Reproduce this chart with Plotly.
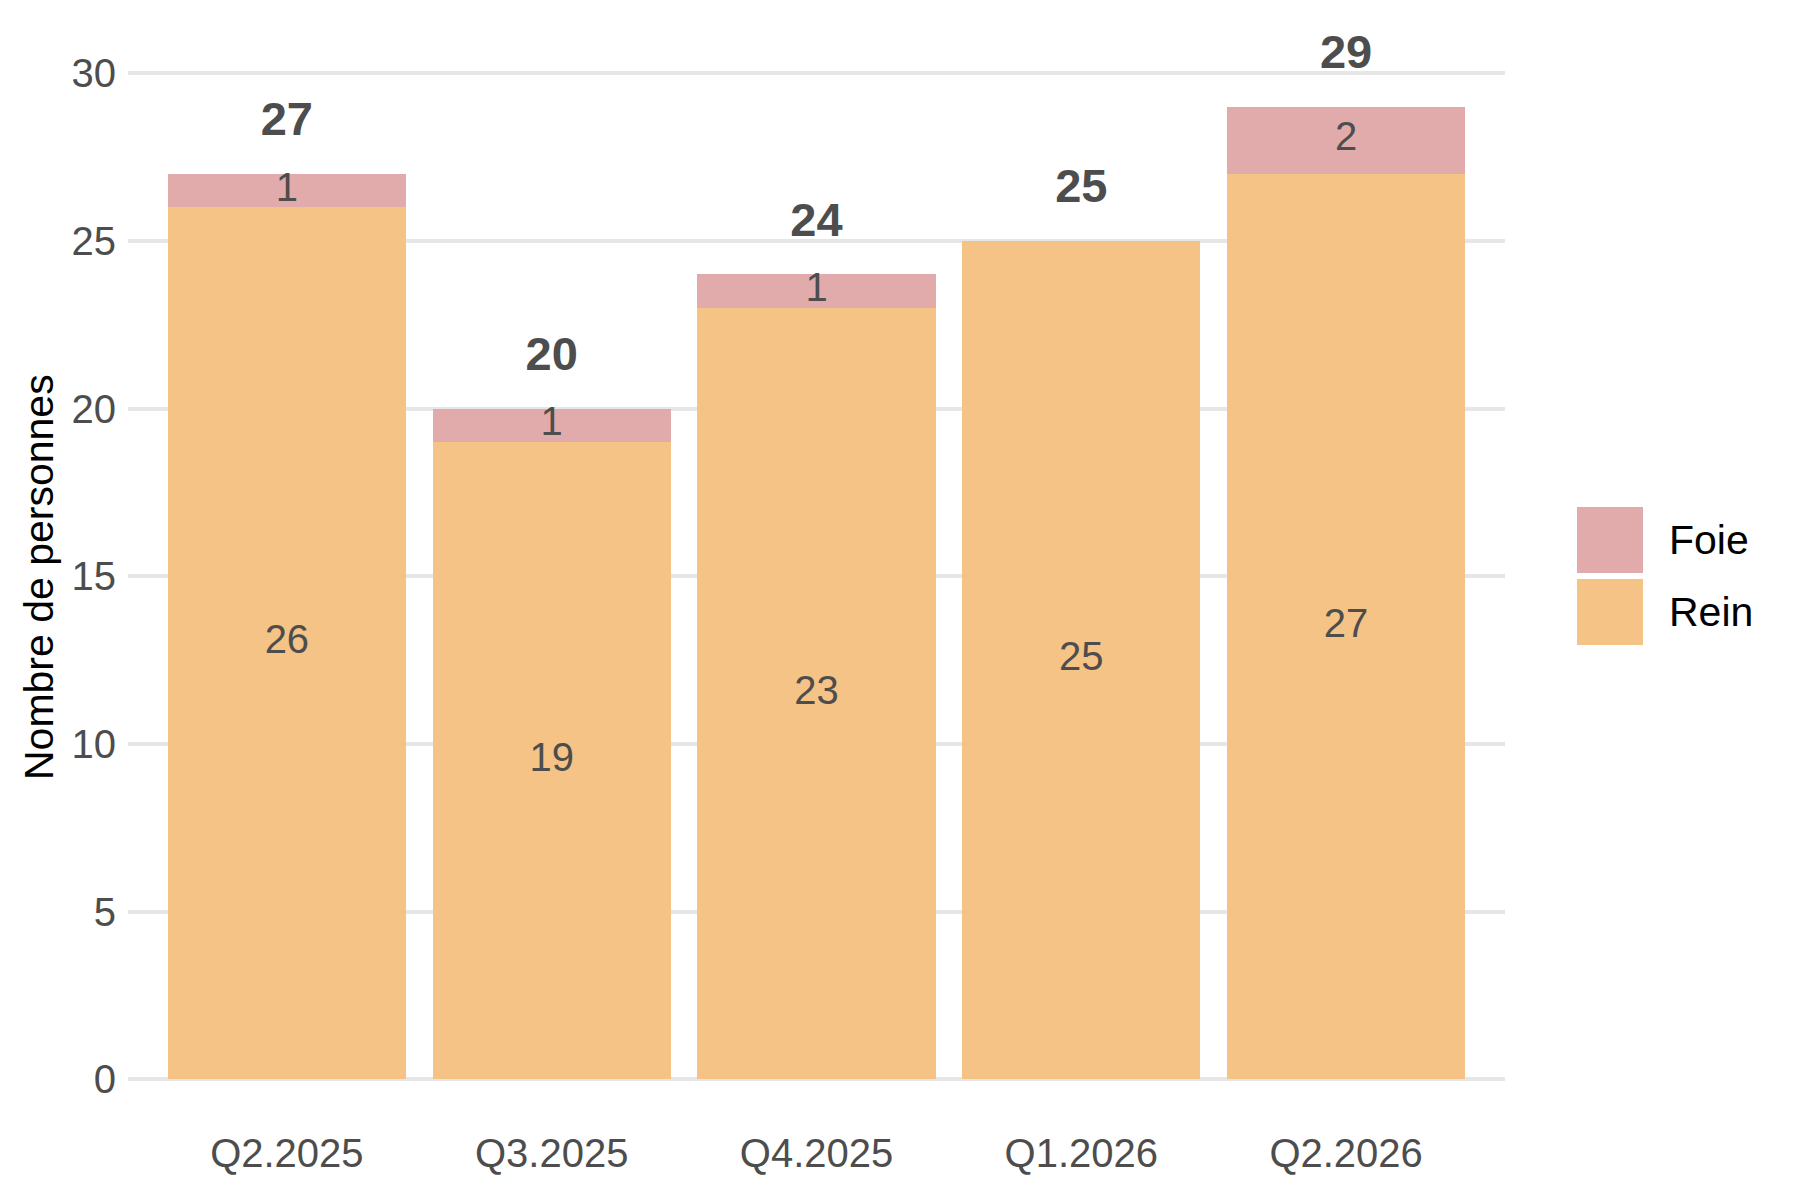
import plotly.graph_objects as go

quarters = ["Q2.2025", "Q3.2025", "Q4.2025", "Q1.2026", "Q2.2026"]
rein = [26, 19, 23, 25, 27]
foie = [1, 1, 1, 0, 2]

totals = [r + f for r, f in zip(rein, foie)]

col_rein = "#F4C385"
col_foie = "#E1ABAC"
font_fam = "Arial, Liberation Sans, sans-serif"
grey_txt = "#4D4D4D"

# page body adds 8px margin, so the figure is a bit smaller than the window
W, H = 1792, 1192
ML, MR, MT, MB = 120, 295, 45, 72

fig = go.Figure()

fig.add_trace(go.Bar(x=quarters, y=rein, name="Rein",
                     marker=dict(color=col_rein, line=dict(width=0)),
                     showlegend=False, hoverinfo="x+y"))
fig.add_trace(go.Bar(x=quarters, y=foie, name="Foie",
                     marker=dict(color=col_foie, line=dict(width=0)),
                     showlegend=False, hoverinfo="x+y"))

# labels in the middle of each segment
fig.add_trace(go.Scatter(
    x=quarters, y=[r / 2 for r in rein], text=[str(r) for r in rein],
    mode="text", textfont=dict(family=font_fam, size=40, color=grey_txt),
    showlegend=False, hoverinfo="skip", cliponaxis=False))
fx = [q for q, f in zip(quarters, foie) if f > 0]
fy = [r + f / 2 for r, f in zip(rein, foie) if f > 0]
ft = [str(f) for f in foie if f > 0]
fig.add_trace(go.Scatter(
    x=fx, y=fy, text=ft,
    mode="text", textfont=dict(family=font_fam, size=40, color=grey_txt),
    showlegend=False, hoverinfo="skip", cliponaxis=False))

# totals above the bars
fig.add_trace(go.Scatter(
    x=quarters, y=[t + 1.5 for t in totals], text=[f"<b>{t}</b>" for t in totals],
    mode="text", textfont=dict(family=font_fam, size=47, color=grey_txt),
    showlegend=False, hoverinfo="skip", cliponaxis=False))

# hand-drawn legend (ggplot style large keys)
pw = W - ML - MR
ph = H - MT - MB


def px(x):
    return (x - ML) / pw


def py(y):
    return (H - MB - y) / ph


legend_items = [("Foie", col_foie, 499), ("Rein", col_rein, 571)]
for label, col, top in legend_items:
    fig.add_shape(type="rect", xref="paper", yref="paper",
                  x0=px(1569), x1=px(1635), y0=py(top + 66), y1=py(top),
                  fillcolor=col, line=dict(width=0))
    fig.add_annotation(xref="paper", yref="paper", x=px(1659), y=py(top + 33),
                       text=label, showarrow=False, xanchor="left", yanchor="middle",
                       font=dict(family=font_fam, size=41, color="black"))

# y axis title
fig.add_annotation(xref="paper", yref="paper", x=px(31), y=py(569),
                   text="Nombre de personnes", textangle=-90, showarrow=False,
                   xanchor="center", yanchor="middle",
                   font=dict(family=font_fam, size=41, color="black"))

fig.update_layout(
    width=W, height=H,
    barmode="stack", bargap=0.1,
    plot_bgcolor="white", paper_bgcolor="white",
    margin=dict(l=ML, r=MR, t=MT, b=MB, autoexpand=False),
    font=dict(family=font_fam, color=grey_txt),
    showlegend=False,
)
fig.update_xaxes(
    range=[-0.6, 4.6], showgrid=False, zeroline=False, showline=False,
    ticks="", tickfont=dict(size=40, color=grey_txt), ticklabelstandoff=-2,
)
fig.update_yaxes(
    range=[-1.45, 30.6], tickvals=[0, 5, 10, 15, 20, 25, 30],
    showgrid=True, gridcolor="#E6E6E6", gridwidth=4, zeroline=False, showline=False,
    ticks="", tickfont=dict(size=40, color=grey_txt), ticklabelstandoff=11,
)

fig.write_html("out.html")
